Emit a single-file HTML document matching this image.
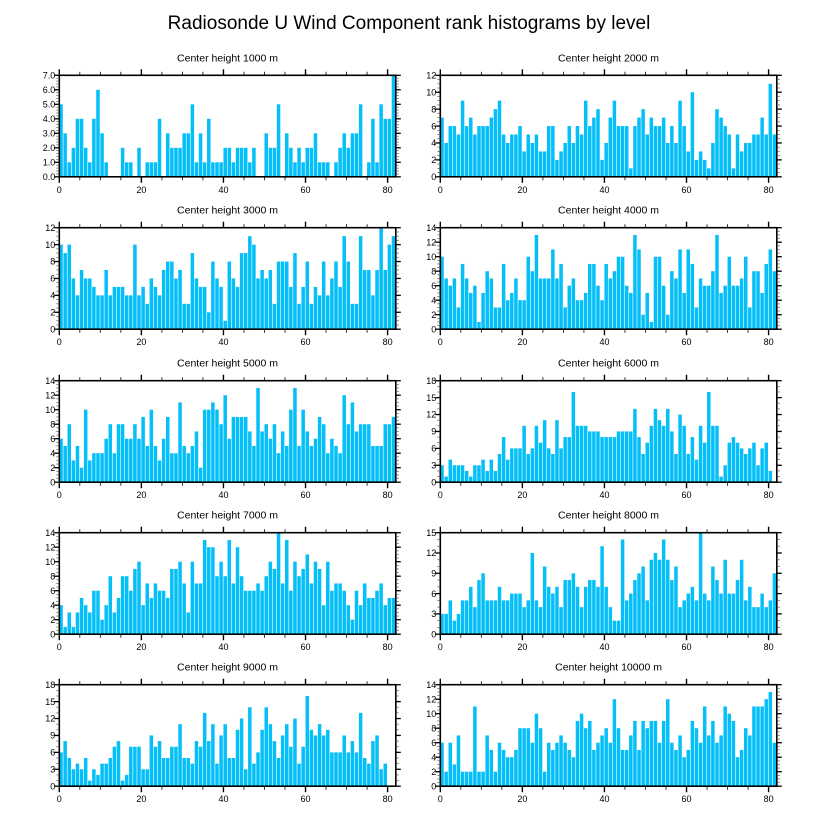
<!DOCTYPE html>
<html><head><meta charset="utf-8"><style>
body{margin:0;background:#fff;}
svg{display:block;font-family:"Liberation Sans",Arial,sans-serif;}
</style></head><body>
<svg id="chart" width="818" height="824" viewBox="0 0 818 824">
<text x="409" y="29" text-anchor="middle" font-size="19">Radiosonde U Wind Component rank histograms by level</text>
</svg>
<script>
const levels = ["1000","2000","3000","4000","5000","6000","7000","8000","9000","10000"];
const h1000 = [5,3,1,2,4,4,2,1,4,6,3,1,0,0,0,2,1,1,0,2,0,1,1,1,4,0,3,2,2,2,3,3,5,1,3,1,4,1,1,1,2,2,1,2,2,2,1,2,0,0,3,2,2,5,0,3,2,1,2,1,2,2,3,1,1,1,0,1,2,3,2,3,3,5,0,1,4,1,5,4,4,7];
const h2000 = [7,4,6,6,5,9,6,7,5,6,6,6,7,8,9,5,4,5,5,6,3,5,4,5,3,3,6,6,2,3,4,6,4,6,5,9,6,7,8,2,4,7,9,6,6,6,1,6,7,8,5,7,6,6,7,4,6,4,9,6,3,10,2,3,2,1,4,8,7,6,5,1,5,3,4,4,5,5,7,5,11,5];
const h3000 = [10,9,10,6,4,7,6,6,5,4,4,7,4,5,5,5,4,4,10,4,5,3,6,5,4,7,8,8,6,7,3,3,9,6,5,5,2,8,6,5,1,8,6,5,9,9,11,10,6,7,6,7,3,8,8,8,5,9,3,5,8,3,5,4,8,4,6,8,5,11,8,3,3,11,7,7,4,7,12,7,10,11];
const h4000 = [10,7,6,7,3,9,7,5,6,1,5,8,7,3,3,9,4,5,7,4,4,10,8,13,7,7,7,11,7,9,3,6,7,4,4,5,9,9,6,4,9,7,8,10,10,6,5,13,11,2,5,1,10,10,6,2,8,7,11,5,11,9,3,7,6,6,8,13,5,6,10,6,6,7,10,3,8,8,5,9,11,8];
const h5000 = [6,5,8,3,5,2,10,3,4,4,4,6,8,4,8,8,6,6,8,6,9,5,10,5,3,6,9,4,4,11,5,4,5,7,2,10,10,11,10,8,12,6,9,9,9,9,7,5,13,7,8,6,8,4,7,5,10,13,5,10,7,5,6,9,8,4,6,5,4,12,8,11,7,8,8,8,5,5,5,8,8,9];
const h6000 = [3,1,4,3,3,3,2,1,3,3,4,2,4,2,5,8,4,6,6,6,10,5,6,10,7,11,6,5,11,6,8,8,16,10,10,10,9,9,9,8,8,8,8,9,9,9,9,13,8,5,7,10,13,11,10,13,9,5,12,10,5,8,4,10,7,16,10,10,1,3,7,8,7,6,5,6,7,3,6,7,2,0];
const h7000 = [4,1,3,1,3,5,4,3,6,6,2,4,8,3,5,8,8,6,9,10,4,7,5,7,6,6,5,9,9,10,7,3,10,7,7,13,12,12,8,10,8,13,7,12,8,6,6,6,7,6,8,10,9,14,7,13,6,10,8,9,11,7,10,9,4,10,6,7,7,6,4,2,6,4,7,5,5,6,7,4,5,5];
const h8000 = [3,3,5,2,3,5,5,7,4,8,9,5,5,5,7,5,5,6,6,6,4,5,12,5,4,10,7,6,7,4,8,8,9,7,4,7,8,8,7,13,7,4,2,2,14,5,6,8,9,10,5,11,12,11,14,11,8,10,4,5,6,7,5,15,6,5,10,8,6,11,6,6,8,11,5,7,4,4,6,4,5,9];
const h9000 = [6,8,5,3,4,3,5,1,3,2,4,4,5,7,8,1,2,7,7,7,3,3,9,7,8,5,5,7,7,11,5,5,4,8,7,13,8,11,4,9,11,5,5,10,12,3,14,4,6,10,14,11,8,5,9,11,7,12,4,7,16,10,9,11,9,10,6,6,6,9,6,8,6,13,5,4,8,9,3,4,0,0];
const h10000 = [6,2,6,3,7,2,2,2,11,2,2,7,5,2,6,5,4,4,5,8,8,8,6,10,8,2,6,5,6,7,6,5,4,9,10,8,9,5,6,7,8,6,12,8,5,5,7,9,5,9,8,9,9,6,9,12,6,5,7,4,5,9,8,6,11,7,9,6,7,11,10,9,4,5,8,7,11,11,11,12,13,6];
const yMaxes = [7,12,12,14,14,18,14,15,18,14];
const yStepsMajor = [1,2,2,2,2,3,2,3,3,2];
const xTickLabels = [0,20,40,60,80];

const allSeries = [h1000,h2000,h3000,h4000,h5000,h6000,h7000,h8000,h9000,h10000];
const svg = document.getElementById('chart');
const NS = 'http://www.w3.org/2000/svg';
function mk(tag, attrs, parent){const e=document.createElementNS(NS,tag);for(const k in attrs)e.setAttribute(k,attrs[k]);(parent||svg).appendChild(e);return e;}

const rowTops=[75.3,227.7,380.7,532.7,684.7];
const PH=101.5, PW=336.5;
const colLefts=[59.3,440.3];
const XDOM=82;

allSeries.forEach((vals,idx)=>{
  const col=idx%2,row=Math.floor(idx/2);
  const L=colLefts[col],T=rowTops[row],B=T+PH,R=L+PW;
  const ymax=yMaxes[idx],step=yStepsMajor[idx];
  const xs=v=>L+v/XDOM*PW;
  const ys=v=>B-v/ymax*PH;
  const g=mk('g',{});
  
  
  const t=mk('text',{x:(L+R)/2,y:T-14,'text-anchor':'middle','font-size':'10.5'},g);
  t.textContent='Center height '+levels[idx]+' m';
  
  
  vals.forEach((v,i)=>{
    if(v<=0)return;
    const r=mk('rect',{x:xs(i),y:ys(Math.min(v,ymax)),width:Math.max(0,xs(i+1)-xs(i)-0.6),height:B-ys(Math.min(v,ymax)),fill:'#05bff8'},g);
    
    
  });
  const fr=mk('rect',{x:L,y:T,width:PW,height:PH,fill:'none',stroke:'#000','stroke-width':'1.6'},g);
  
  
  // x ticks
  for(let v=0;v<=80;v+=5){
    const x=xs(v),maj=v%20===0,len=maj?6:3.5;
    mk('line',{x1:x,x2:x,y1:B,y2:B+len,stroke:'#000','stroke-width':maj?1.4:0.8},g);
    mk('line',{x1:x,x2:x,y1:T,y2:T-len,stroke:'#000','stroke-width':maj?1.4:0.8},g);
  }
  xTickLabels.forEach(v=>{
    const tl=mk('text',{x:xs(v),y:B+16,'text-anchor':'middle','font-size':'9'},g);
    tl.textContent=v;
    
    
  });
  // y ticks
  const minorN=ymax<=7?5:(step===3?3:4);
  for(let v=0;v<=ymax+1e-9;v+=step){
    const y=ys(v);
    mk('line',{x1:L-5,x2:L,y1:y,y2:y,stroke:'#000','stroke-width':1.3},g);
    mk('line',{x1:R,x2:R+5,y1:y,y2:y,stroke:'#000','stroke-width':1.3},g);
    const yl=mk('text',{x:L-4,y:y+3.2,'text-anchor':'end','font-size':'9'},g);
    yl.textContent=ymax<=7?v.toFixed(1):v;
    
    
    for(let k=1;k<minorN;k++){
      const vm=v+k*step/minorN; if(vm>ymax)break;
      const ym=ys(vm);
      mk('line',{x1:L-3,x2:L,y1:ym,y2:ym,stroke:'#555','stroke-width':0.7},g);
      mk('line',{x1:R,x2:R+3,y1:ym,y2:ym,stroke:'#555','stroke-width':0.7},g);
    }
  }
});
</script>
</body></html>
